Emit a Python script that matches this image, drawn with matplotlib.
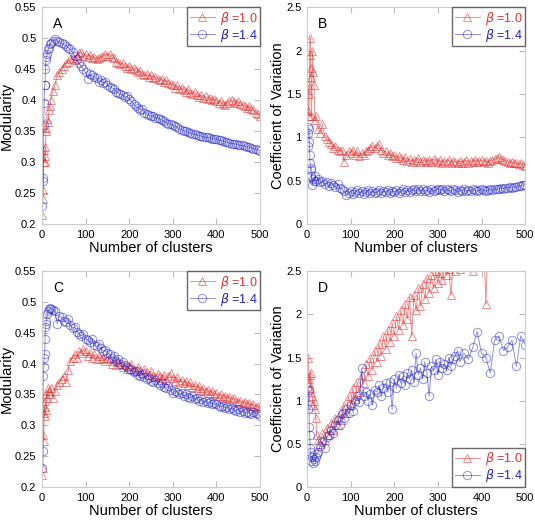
import numpy as np
import matplotlib
matplotlib.use('Agg')
import matplotlib.pyplot as plt
from matplotlib.ticker import FuncFormatter

plt.rcParams['font.family'] = ['Liberation Sans', 'DejaVu Sans']
plt.rcParams['mathtext.fontset'] = 'dejavusans'

# ---- data ----
x_early = [1, 2, 3, 4, 5, 6, 7, 8, 9, 10, 12, 14, 16, 18, 20]
x_main = np.concatenate([x_early, np.arange(25, 501, 5)])

a_b10 = [0.215, 0.24, 0.255, 0.30, 0.32, 0.31, 0.30, 0.325, 0.35, 0.355, 0.37, 0.365, 0.385, 0.39, 0.40,
         0.415, 0.425, 0.44, 0.445, 0.45, 0.455, 0.46, 0.462, 0.466, 0.468, 0.465, 0.472, 0.476, 0.478, 0.472, 0.474,
         0.47, 0.473, 0.468, 0.47, 0.466, 0.468, 0.47, 0.471, 0.474, 0.472, 0.475, 0.47, 0.468, 0.462, 0.46, 0.458,
         0.46, 0.455, 0.452, 0.455, 0.45, 0.452, 0.448, 0.445, 0.447, 0.443, 0.44, 0.442, 0.438, 0.44, 0.436, 0.438,
         0.435, 0.432, 0.434, 0.43, 0.432, 0.428, 0.426, 0.425, 0.42, 0.424, 0.418, 0.42, 0.416, 0.414, 0.418, 0.412,
         0.41, 0.413, 0.408, 0.405, 0.408, 0.404, 0.406, 0.402, 0.404, 0.40, 0.402, 0.398, 0.396, 0.398, 0.394, 0.392,
         0.396, 0.398, 0.40, 0.397, 0.395, 0.398, 0.394, 0.392, 0.39, 0.388, 0.39, 0.386, 0.384, 0.38, 0.378, 0.375]
a_b14 = [0.23, 0.275, 0.27, 0.36, 0.395, 0.425, 0.425, 0.45, 0.465, 0.47, 0.475, 0.482, 0.485, 0.49, 0.493,
         0.496, 0.498, 0.495, 0.494, 0.492, 0.49, 0.488, 0.485, 0.482, 0.478, 0.472, 0.466, 0.46, 0.455, 0.45, 0.445,
         0.435, 0.442, 0.44, 0.438, 0.436, 0.43, 0.432, 0.428, 0.43, 0.425, 0.422, 0.42, 0.418, 0.414, 0.412, 0.41,
         0.408, 0.405, 0.406, 0.402, 0.398, 0.394, 0.39, 0.388, 0.385, 0.386, 0.38, 0.377, 0.376, 0.375, 0.374, 0.372,
         0.371, 0.37, 0.368, 0.366, 0.364, 0.362, 0.361, 0.36, 0.358, 0.356, 0.354, 0.352, 0.351, 0.35, 0.348, 0.347,
         0.346, 0.345, 0.344, 0.343, 0.342, 0.341, 0.34, 0.34, 0.339, 0.338, 0.338, 0.337, 0.336, 0.335, 0.334, 0.333,
         0.332, 0.331, 0.33, 0.33, 0.329, 0.328, 0.327, 0.327, 0.326, 0.325, 0.324, 0.323, 0.322, 0.321, 0.32, 0.318]

b_b10 = [1.25, 1.3, 1.6, 1.25, 1.5, 1.95, 2.15, 1.8, 1.7, 1.25, 2.0, 1.75, 1.6, 1.2, 1.25,
         1.1, 1.05, 1.15, 1.02, 0.98, 0.95, 0.92, 0.88, 0.9, 0.86, 0.84, 0.86, 0.72, 0.8, 0.84, 0.82,
         0.86, 0.8, 0.84, 0.78, 0.82, 0.8, 0.84, 0.86, 0.88, 0.9, 0.88, 0.9, 0.92, 0.86, 0.82, 0.84,
         0.8, 0.82, 0.78, 0.8, 0.76, 0.78, 0.76, 0.74, 0.77, 0.73, 0.75, 0.72, 0.74, 0.73, 0.76, 0.72,
         0.74, 0.73, 0.72, 0.74, 0.72, 0.75, 0.73, 0.72, 0.74, 0.71, 0.73, 0.72, 0.74, 0.71, 0.73, 0.72,
         0.70, 0.73, 0.71, 0.72, 0.74, 0.71, 0.73, 0.72, 0.74, 0.72, 0.73, 0.74, 0.72, 0.73, 0.71, 0.73,
         0.74, 0.75, 0.76, 0.77, 0.75, 0.74, 0.73, 0.72, 0.71, 0.72, 0.70, 0.71, 0.69, 0.70, 0.68, 0.67]
b_b14 = [0.9, 1.05, 1.12, 1.1, 0.95, 0.8, 0.7, 0.62, 0.65, 0.55, 0.45, 0.52, 0.5, 0.55, 0.5,
         0.52, 0.48, 0.5, 0.46, 0.48, 0.44, 0.47, 0.45, 0.43, 0.46, 0.42, 0.4, 0.38, 0.34, 0.36, 0.38,
         0.35, 0.37, 0.39, 0.36, 0.38, 0.35, 0.37, 0.39, 0.36, 0.38, 0.36, 0.37, 0.39, 0.36, 0.38, 0.37,
         0.39, 0.36, 0.38, 0.37, 0.39, 0.36, 0.38, 0.40, 0.37, 0.39, 0.37, 0.39, 0.40, 0.38, 0.41, 0.38,
         0.40, 0.38, 0.39, 0.37, 0.40, 0.38, 0.39, 0.41, 0.39, 0.40, 0.38, 0.40, 0.39, 0.38, 0.40, 0.39,
         0.37, 0.39, 0.38, 0.40, 0.38, 0.39, 0.38, 0.40, 0.39, 0.38, 0.39, 0.40, 0.39, 0.38, 0.39, 0.40,
         0.39, 0.41, 0.40, 0.41, 0.42, 0.41, 0.42, 0.42, 0.43, 0.42, 0.43, 0.43, 0.44, 0.44, 0.45, 0.45]

c_b10 = [0.22, 0.23, 0.285, 0.275, 0.32, 0.33, 0.315, 0.34, 0.325, 0.35, 0.345, 0.36, 0.355, 0.35, 0.36,
         0.345, 0.355, 0.365, 0.37, 0.375, 0.38, 0.37, 0.39, 0.405, 0.41, 0.415, 0.41, 0.42, 0.418, 0.424, 0.42,
         0.412, 0.418, 0.41, 0.415, 0.408, 0.412, 0.408, 0.41, 0.405, 0.41, 0.408, 0.40, 0.405, 0.398, 0.402, 0.40,
         0.395, 0.398, 0.392, 0.396, 0.40, 0.392, 0.388, 0.395, 0.39, 0.385, 0.392, 0.386, 0.382, 0.388, 0.38, 0.378,
         0.384, 0.38, 0.376, 0.382, 0.374, 0.38, 0.385, 0.376, 0.372, 0.378, 0.37, 0.374, 0.368, 0.372, 0.365, 0.37,
         0.362, 0.366, 0.36, 0.364, 0.358, 0.36, 0.355, 0.358, 0.352, 0.356, 0.35, 0.352, 0.348, 0.35, 0.346, 0.348,
         0.344, 0.346, 0.342, 0.344, 0.34, 0.338, 0.34, 0.336, 0.338, 0.334, 0.336, 0.332, 0.334, 0.33, 0.332, 0.328]
c_b14 = [0.23, 0.258, 0.38, 0.395, 0.41, 0.415, 0.44, 0.46, 0.465, 0.47, 0.48, 0.485, 0.488, 0.49, 0.489,
         0.487, 0.485, 0.465, 0.478, 0.476, 0.47, 0.468, 0.472, 0.462, 0.458, 0.46, 0.452, 0.448, 0.445, 0.448, 0.44,
         0.438, 0.435, 0.44, 0.43, 0.428, 0.432, 0.425, 0.42, 0.422, 0.418, 0.415, 0.41, 0.412, 0.405, 0.408, 0.40,
         0.402, 0.398, 0.395, 0.392, 0.39, 0.386, 0.388, 0.382, 0.38, 0.384, 0.378, 0.375, 0.376, 0.372, 0.37, 0.374,
         0.368, 0.365, 0.368, 0.362, 0.36, 0.364, 0.358, 0.352, 0.356, 0.354, 0.35, 0.352, 0.348, 0.35, 0.346, 0.344,
         0.348, 0.342, 0.345, 0.34, 0.342, 0.338, 0.34, 0.336, 0.338, 0.335, 0.336, 0.334, 0.332, 0.33, 0.332, 0.328,
         0.33, 0.326, 0.328, 0.325, 0.324, 0.326, 0.322, 0.324, 0.32, 0.322, 0.32, 0.318, 0.322, 0.32, 0.318, 0.315]

d_early = [3, 4, 5, 6, 7, 8, 10, 12, 14, 16, 18, 20, 22]
d_x10 = np.concatenate([d_early, np.arange(25, 421, 5)])
d_b10 = [1.5, 1.2, 1.25, 1.3, 1.15, 1.32, 1.1, 1.05, 0.95, 1.0, 0.9, 0.8, 0.6,
         0.55, 0.5, 0.62, 0.55, 0.68, 0.6, 0.74, 0.66, 0.8, 0.72, 0.86, 0.78, 0.95, 0.86, 1.05, 0.95,
         1.15, 1.02, 1.22, 1.1, 1.3, 1.2, 1.42, 1.28, 1.5, 1.36, 1.58, 1.45, 1.66, 1.52, 1.75, 1.6,
         1.82, 1.68, 1.9, 1.75, 1.98, 1.82, 2.05, 1.88, 2.12, 1.95, 2.2, 1.75, 2.22, 2.05, 2.3, 2.1,
         2.35, 2.18, 2.42, 2.25, 2.45, 2.3, 2.5, 2.36, 2.48, 2.4, 2.55, 2.45, 2.52, 2.22, 2.6, 2.5,
         2.58, 2.52, 2.65, 2.55, 2.7, 2.6, 2.75, 2.5, 2.8, 2.7, 2.85, 2.75, 2.9, 2.12, 2.95, 2.9]
d_tail = [360, 370, 380, 390, 400, 410, 420, 430, 440, 450, 460, 470, 480, 490, 500]
d_x14 = np.concatenate([d_early, np.arange(25, 351, 5), d_tail])
d_b14 = [0.9, 1.12, 0.7, 0.6, 0.45, 0.4, 0.3, 0.35, 0.28, 0.32, 0.3, 0.35, 0.38,
         0.4, 0.48, 0.52, 0.45, 0.58, 0.6, 0.66, 0.62, 0.72, 0.78, 0.72, 0.85, 0.8, 0.9, 0.86, 0.95,
         0.88, 1.0, 1.05, 0.98, 1.38, 1.05, 1.1, 1.0, 1.08, 0.95, 1.12, 1.1, 1.18, 1.05, 1.15, 1.2,
         1.1, 1.22, 0.9, 1.25, 1.15, 1.3, 1.2, 1.28, 1.18, 1.32, 1.25, 1.35, 1.22, 1.55, 1.3, 1.38,
         1.25, 1.45, 1.32, 1.05, 1.4, 1.35, 1.48, 1.3, 1.45, 1.38, 1.42, 1.35, 1.5, 1.4, 1.48, 1.52,
         1.58, 1.45,
         1.55, 1.48, 1.62, 1.8, 1.55, 1.5, 1.32, 1.7, 1.75, 1.58, 1.62, 1.7, 1.4, 1.75, 1.65]

RED = '#e03030'
BLUE = '#2020c8'

panels = [
    ('A', x_main, a_b10, x_main, a_b14, 'Modularity', (0.2, 0.55), 0.05, 'upper right'),
    ('B', x_main, b_b10, x_main, b_b14, 'Coefficient of Variation', (0, 2.5), 0.5, 'upper right'),
    ('C', x_main, c_b10, x_main, c_b14, 'Modularity', (0.2, 0.55), 0.05, 'upper right'),
    ('D', d_x10, d_b10, d_x14, d_b14, 'Coefficient of Variation', (0, 2.5), 0.5, 'lower right'),
]
rects = [
    [0.0785, 0.569, 0.4075, 0.417],
    [0.574, 0.569, 0.4075, 0.417],
    [0.0785, 0.0635, 0.4075, 0.415],
    [0.574, 0.0635, 0.4075, 0.415],
]

fig = plt.figure(figsize=(5.35, 5.2), dpi=100)

for rect, (tag, x1, y1, x2, y2, ylab, ylim, ystep, loc) in zip(rects, panels):
    ax = fig.add_axes(rect)
    ax.plot(x1, y1, color=RED, alpha=0.55, lw=0.7, marker='^', ms=5.5,
            mfc='none', mec=RED, mew=0.7, label=r'$\beta$ =1.0')
    ax.plot(x2, y2, color=BLUE, alpha=0.5, lw=0.7, marker='o', ms=6,
            mfc='none', mec=BLUE, mew=0.7, label=r'$\beta$ =1.4')
    ax.set_xlim(0, 500)
    ax.set_ylim(*ylim)
    ax.set_xticks([0, 100, 200, 300, 400, 500])
    ax.set_yticks(np.arange(ylim[0], ylim[1] + 1e-9, ystep))
    ax.yaxis.set_major_formatter(FuncFormatter(lambda v, p: '%g' % round(v, 3)))
    ax.tick_params(direction='in', length=4, color='#bbbbbb', labelsize=8,
                   top=True, right=True, pad=4)
    for sp in ax.spines.values():
        sp.set_color('#cccccc')
        sp.set_linewidth(0.8)
    ax.set_xlabel('Number of clusters', fontsize=10.5, labelpad=1)
    ax.set_ylabel(ylab, fontsize=10.5, labelpad=1)
    ax.text(0.05, 0.955, tag, transform=ax.transAxes, fontsize=10,
            va='top', ha='left')
    leg = ax.legend(loc=loc, fontsize=9, frameon=True, fancybox=False,
                    handlelength=2.0, handletextpad=0.4, borderpad=0.2,
                    labelspacing=0.0, borderaxespad=0.0)
    leg.get_frame().set_edgecolor('#444444')
    leg.get_frame().set_linewidth(1.0)
    for t, c in zip(leg.get_texts(), [RED, BLUE]):
        t.set_color(c)

fig.savefig('out.png', dpi=100)
